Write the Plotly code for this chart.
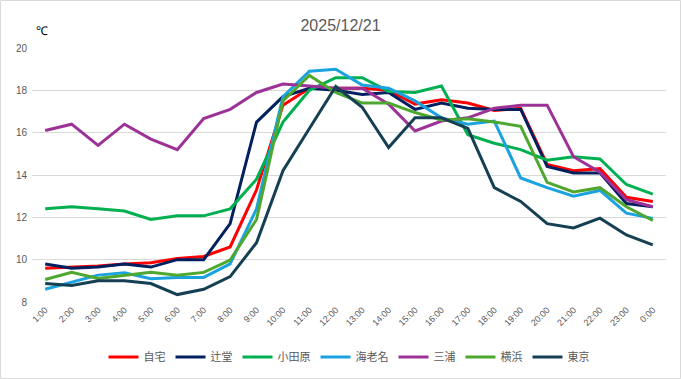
import plotly.graph_objects as go

hours = ["1:00", "2:00", "3:00", "4:00", "5:00", "6:00", "7:00", "8:00", "9:00", "10:00",
         "11:00", "12:00", "13:00", "14:00", "15:00", "16:00", "17:00", "18:00", "19:00",
         "20:00", "21:00", "22:00", "23:00", "0:00"]

jitaku = [9.6, 9.65, 9.7, 9.8, 9.85, 10.05, 10.15, 10.6, 13.3, 17.3, 18.1, 18.1, 18.1, 18.0,
          17.35, 17.55, 17.4, 17.05, 17.15, 14.5, 14.2, 14.3, 12.95, 12.75]
tsujido = [9.8, 9.6, 9.65, 9.8, 9.65, 10.0, 10.0, 11.7, 16.5, 17.7, 18.1, 18.0, 17.8, 17.9,
           17.1, 17.4, 17.15, 17.1, 17.1, 14.4, 14.1, 14.1, 12.65, 12.5]
odawara = [12.4, 12.5, 12.4, 12.3, 11.9, 12.07, 12.07, 12.4, 13.8, 16.5, 18.0, 18.6, 18.6, 17.95,
           17.9, 18.2, 15.9, 15.5, 15.2, 14.7, 14.86, 14.76, 13.55, 13.1]
ebina = [8.6, 8.95, 9.27, 9.38, 9.1, 9.16, 9.16, 9.8, 12.4, 17.7, 18.9, 19.0, 18.25, 18.1,
         17.5, 16.7, 16.4, 16.55, 13.86, 13.4, 13.0, 13.27, 12.2, 11.95]
miura = [16.1, 16.4, 15.4, 16.4, 15.7, 15.2, 16.67, 17.1, 17.9, 18.3, 18.2, 18.1, 18.1, 17.35,
         16.08, 16.55, 16.7, 17.15, 17.3, 17.3, 14.86, 14.13, 12.83, 12.5]
yokohama = [9.06, 9.4, 9.11, 9.27, 9.4, 9.27, 9.4, 9.98, 11.9, 17.5, 18.7, 17.9, 17.4, 17.4,
            16.95, 16.6, 16.66, 16.5, 16.3, 13.65, 13.2, 13.4, 12.5, 11.85]
tokyo = [8.87, 8.78, 9.0, 9.0, 8.87, 8.35, 8.6, 9.2, 10.8, 14.2, 16.2, 18.18, 17.2, 15.3,
         16.7, 16.7, 16.2, 13.4, 12.75, 11.7, 11.5, 11.96, 11.17, 10.7]

series_names = ["自宅", "辻堂", "小田原", "海老名", "三浦", "横浜", "東京"]
series_values = [jitaku, tsujido, odawara, ebina, miura, yokohama, tokyo]
series_colors = ["#FF0000", "#002060", "#00B050", "#1AA3DF", "#9C3197", "#4EA72E", "#153F52"]

y_ticks = [8, 10, 12, 14, 16, 18, 20]

FONT = "Noto Sans CJK JP, Liberation Sans, sans-serif"
GRAY = "#595959"

fig = go.Figure()
for name, vals, col in zip(series_names, series_values, series_colors):
    fig.add_trace(go.Scatter(x=hours, y=vals, name=name, mode="lines",
                             line=dict(color=col, width=3)))

W, H = 681, 379
ml, mr, mt, mb = 32, 15, 48, 77
pw, ph = W - ml - mr, H - mt - mb

fig.update_layout(
    width=W, height=H,
    margin=dict(l=ml, r=mr, t=mt, b=mb, autoexpand=False),
    paper_bgcolor="white", plot_bgcolor="white",
    font=dict(family=FONT, color=GRAY, size=10),
    title=dict(text="2025/12/21", x=0.5, xanchor="center", y=1 - 25 / H, yanchor="middle",
               font=dict(size=16, color=GRAY, family="Liberation Sans, sans-serif")),
    xaxis=dict(type="category", range=[-0.5, 23.5], tickangle=-45, showgrid=False,
               showline=False, zeroline=False, ticks="", automargin=False,
               tickfont=dict(size=9, color=GRAY, family="Liberation Sans, sans-serif")),
    yaxis=dict(range=[8, 20], tickvals=y_ticks, showgrid=True, gridcolor="#D9D9D9",
               gridwidth=1, zeroline=False, showline=False, ticks="", automargin=False,
               ticklabelstandoff=4,
               tickfont=dict(size=10, color=GRAY, family="Liberation Sans, sans-serif")),
    legend=dict(orientation="h", x=0.5, xanchor="center", y=-(357 - (mt + ph)) / ph,
                yanchor="middle", font=dict(size=11, color=GRAY, family=FONT),
                itemwidth=30, tracegroupgap=0),
    showlegend=True,
)

fig.add_annotation(text="℃", xref="paper", yref="paper",
                   x=(42 - ml) / pw, y=1 + (mt - 31) / ph, showarrow=False,
                   xanchor="center", yanchor="middle",
                   font=dict(size=12, color="#000000", family="Liberation Sans, sans-serif"))

# chart-area border
fig.add_shape(type="rect", xref="paper", yref="paper",
              x0=(0.5 - ml) / pw, x1=(W - 0.5 - ml) / pw,
              y0=-(mb - 0.5) / ph, y1=1 + (mt - 0.5) / ph,
              line=dict(color="#D9D9D9", width=1), fillcolor="rgba(0,0,0,0)", layer="below")

fig.write_html("out.html", config={"displayModeBar": False},
               post_script="document.body.style.margin='0';document.body.style.padding='0';")
